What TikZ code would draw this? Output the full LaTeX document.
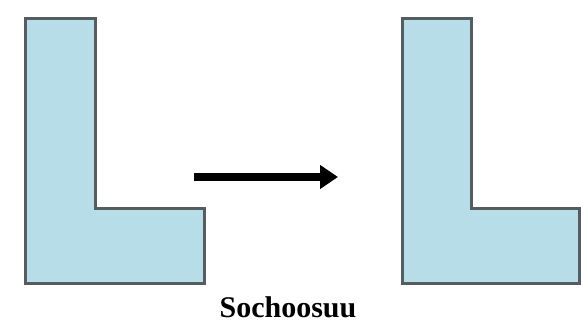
\documentclass[tikz,border=0pt]{standalone}
\usepackage{fontspec}
\setmainfont{Liberation Serif}
\usetikzlibrary{arrows.meta}
\definecolor{lfill}{HTML}{B7DDE8}
\definecolor{ledge}{HTML}{555D60}
\tikzset{
  lshape/.style={fill=lfill, draw=ledge, line width=3pt, line join=miter},
  bigarrow/.style={line width=8pt, -{Triangle[length=18pt,width=23pt]}},
  caption/.style={font=\bfseries\fontsize{30}{32}\selectfont, inner sep=0pt}
}
\begin{document}
\begin{tikzpicture}[x=1pt,y=-1pt]
\useasboundingbox (0,0) rectangle (581,329);
\draw[lshape] (25,19) -- (95,19) -- (95,208) -- (204,208) -- (204,283) -- (25,283) -- cycle;
\draw[lshape] (402,19) -- (471,19) -- (471,208) -- (579,208) -- (579,283) -- (402,283) -- cycle;
\coordinate (a1) at (194,177);
\coordinate (a2) at (338,177);
\draw[bigarrow] (a1) -- (a2);
\node[caption] (cap) at (288,307) {Sochoosuu};
\end{tikzpicture}
\end{document}
